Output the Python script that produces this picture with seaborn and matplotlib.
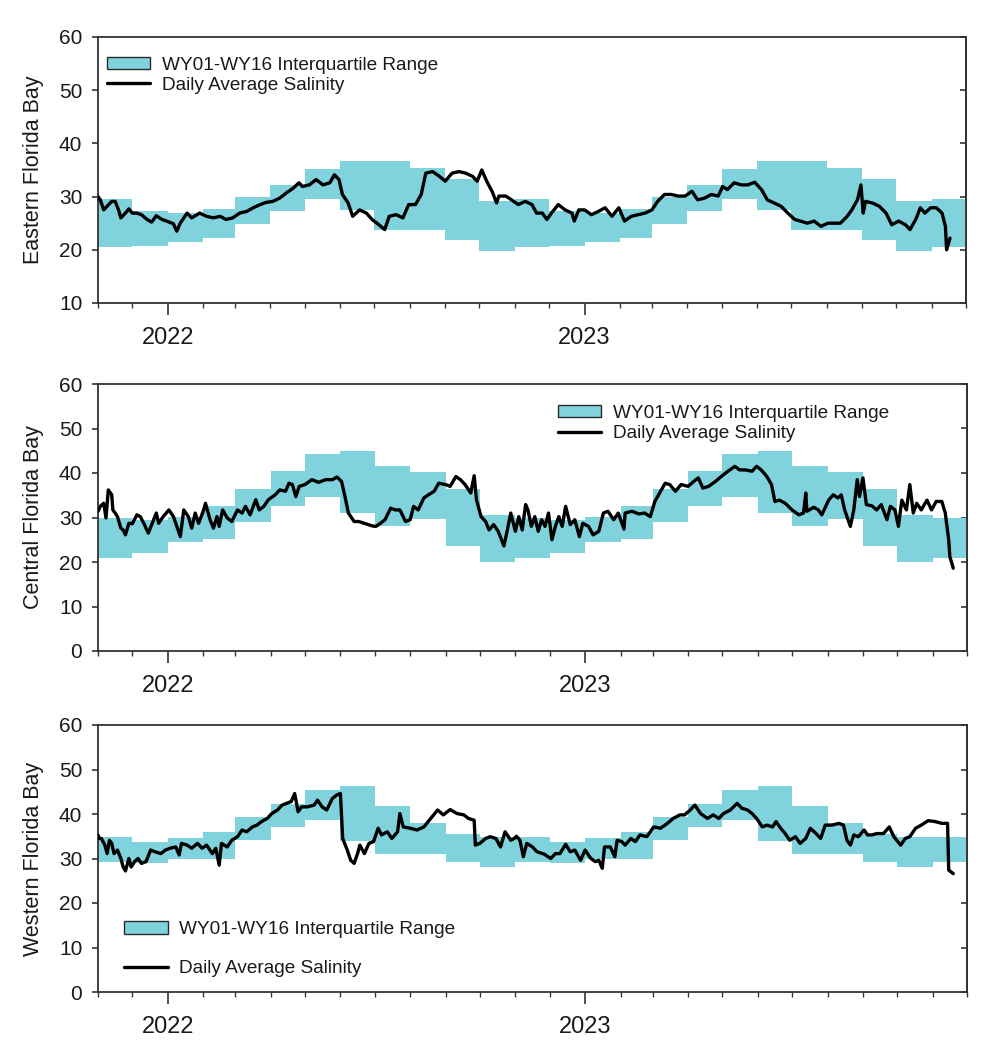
import numpy as np
import pandas as pd
import matplotlib
matplotlib.use("Agg")
import matplotlib.pyplot as plt
import matplotlib.dates as mdates
from matplotlib.patches import Patch
from matplotlib.lines import Line2D
import seaborn as sns

sns.set_theme(style="ticks")
plt.rcParams["font.family"] = ["Liberation Sans", "DejaVu Sans"]

# ---------------- data ----------------
START = "2021-11-01"
END = "2023-12-01"
MONTHS = ["Jan", "Feb", "Mar", "Apr", "May", "Jun",
          "Jul", "Aug", "Sep", "Oct", "Nov", "Dec"]

# WY01-WY16 monthly interquartile range (calendar order Jan..Dec)
EAST_Q25 = [21.5, 22.3, 24.9, 27.3, 29.6, 27.5, 23.7, 23.8, 21.8, 19.7, 20.5, 20.8]
EAST_Q75 = [26.9, 27.7, 29.9, 32.1, 35.2, 36.6, 36.7, 35.3, 33.4, 29.2, 29.5, 27.2]
CENT_Q25 = [24.6, 25.2, 29.1, 32.6, 34.7, 31.0, 28.0, 29.6, 23.6, 20.0, 20.9, 22.0]
CENT_Q75 = [30.2, 32.6, 36.5, 40.5, 44.3, 45.0, 41.5, 40.2, 36.5, 30.5, 30.0, 29.5]
WEST_Q25 = [29.8, 30.0, 34.1, 37.1, 38.6, 33.9, 31.0, 31.0, 29.3, 28.1, 29.3, 28.9]
WEST_Q75 = [34.5, 36.0, 39.4, 42.2, 45.4, 46.3, 41.8, 37.9, 35.5, 34.9, 34.9, 33.8]

# Daily average salinity (day offset from 2021-11-01, value)
EAST_DAY = [0, 2, 5, 8, 12, 15, 18, 20, 24, 27, 30, 34, 38, 43, 47, 51, 56, 60, 66, 69,
            72, 78, 82, 89, 95, 101, 107, 112, 118, 124, 130, 136, 142, 147, 153, 159, 165,
            171, 176, 179, 185, 191, 197, 203, 207, 211, 214, 219, 223, 229, 235, 240, 246,
            251, 255, 261, 267, 272, 278, 283, 287, 293, 299, 304, 310, 316, 322, 328, 332,
            336, 341, 345, 349, 351, 357, 362, 368, 374, 380, 384, 389, 393, 397, 403, 409,
            415, 417, 421, 426, 432, 438, 444, 450, 456, 461, 467, 473, 479, 485, 490, 496,
            502, 508, 514, 520, 525, 531, 537, 543, 547, 551, 557, 563, 569, 575, 581, 586,
            592, 598, 604, 610, 615, 621, 627, 633, 639, 644, 650, 656, 660, 665, 668, 670,
            672, 678, 684, 690, 695, 701, 707, 711, 716, 720, 724, 729, 734, 739, 742, 743, 746]
EAST_SAL = [30.0, 29.4, 27.5, 28.2, 29.1, 29.1, 27.5, 26.0, 26.9, 27.7, 26.9, 26.9, 26.6,
            25.7, 25.2, 26.4, 25.7, 25.4, 24.9, 23.5, 25.0, 26.9, 26.0, 26.9, 26.3, 26.0,
            26.3, 25.7, 26.0, 26.9, 27.2, 27.9, 28.5, 28.9, 29.1, 29.7, 30.7, 31.6, 32.6,
            31.9, 32.2, 33.2, 32.2, 32.6, 34.1, 33.2, 30.4, 28.8, 26.3, 27.5, 26.9, 25.7,
            24.7, 23.8, 26.3, 26.6, 26.0, 28.5, 28.5, 30.4, 34.4, 34.7, 33.8, 32.9, 34.4,
            34.7, 34.4, 33.8, 32.9, 35.0, 32.6, 31.0, 28.8, 30.1, 30.1, 29.4, 28.5, 29.1,
            28.5, 26.9, 26.9, 25.7, 26.9, 28.5, 27.5, 26.9, 25.4, 27.5, 27.5, 26.6, 27.2,
            27.9, 26.3, 27.9, 25.4, 26.3, 26.6, 26.9, 27.5, 29.1, 30.4, 30.4, 30.1, 30.1,
            31.0, 29.4, 29.7, 30.4, 30.1, 31.9, 31.3, 32.6, 32.2, 32.2, 32.7, 31.3, 29.4,
            28.8, 28.2, 26.9, 25.7, 25.4, 25.0, 25.4, 24.4, 25.0, 25.0, 25.0, 26.3, 27.5,
            29.4, 32.2, 26.9, 29.1, 28.8, 28.2, 26.9, 24.7, 25.4, 24.7, 23.8, 25.7, 27.9,
            26.9, 27.9, 27.9, 26.9, 24.4, 20.0, 22.2]

CENT_DAY = [0, 2, 5, 7, 9, 12, 13, 15, 17, 20, 22, 24, 27, 30, 34, 37, 40, 44, 47, 51, 53,
            57, 62, 66, 72, 75, 79, 82, 85, 88, 92, 94, 98, 101, 104, 106, 109, 113, 117,
            122, 126, 129, 133, 138, 141, 145, 149, 155, 159, 164, 167, 170, 173, 176, 181,
            187, 193, 199, 205, 209, 213, 216, 219, 224, 228, 234, 240, 243, 247, 251, 256,
            260, 264, 269, 273, 276, 280, 285, 289, 294, 298, 304, 308, 313, 317, 321, 326,
            329, 331, 335, 339, 342, 346, 350, 355, 358, 361, 365, 368, 371, 374, 376, 379,
            382, 385, 388, 391, 394, 397, 400, 403, 406, 409, 413, 417, 421, 424, 429, 433,
            438, 442, 446, 451, 455, 460, 461, 467, 473, 478, 483, 487, 492, 496, 500, 505,
            510, 516, 521, 525, 529, 534, 540, 545, 551, 557, 561, 566, 572, 576, 580, 585,
            589, 592, 596, 601, 607, 613, 617, 619, 620, 626, 630, 633, 639, 643, 647, 650,
            653, 658, 661, 664, 666, 669, 672, 677, 681, 685, 690, 693, 697, 700, 703, 707,
            710, 713, 716, 720, 725, 729, 733, 738, 741, 744, 745, 748]
CENT_SAL = [31.4, 32.5, 33.2, 29.9, 36.2, 35.1, 31.7, 31.0, 30.2, 27.6, 27.2, 26.1, 28.7,
            28.6, 30.6, 30.2, 28.7, 26.5, 28.4, 31.0, 28.7, 30.2, 31.7, 30.2, 25.7, 31.7,
            30.2, 27.6, 31.0, 28.7, 31.4, 33.2, 29.5, 27.6, 30.2, 28.0, 31.7, 29.9, 29.1,
            31.7, 31.0, 32.5, 30.6, 34.0, 31.7, 32.5, 34.0, 35.1, 36.2, 35.9, 37.7, 37.4,
            34.7, 37.0, 37.4, 38.5, 37.9, 38.5, 38.5, 39.1, 38.1, 34.7, 31.0, 29.1, 29.1,
            28.6, 28.1, 28.0, 28.7, 29.5, 32.1, 31.7, 31.7, 29.1, 29.5, 32.5, 31.7, 34.4,
            35.1, 35.9, 37.7, 37.4, 37.0, 39.2, 38.5, 37.4, 35.5, 39.4, 34.0, 30.2, 29.1,
            27.2, 28.4, 26.9, 23.6, 27.2, 31.0, 26.9, 30.2, 27.2, 32.9, 31.7, 28.0, 30.2,
            26.9, 29.5, 28.0, 31.0, 25.0, 28.0, 30.2, 28.0, 32.5, 28.4, 29.5, 25.7, 28.7,
            28.0, 26.1, 26.9, 31.0, 31.4, 29.5, 31.0, 27.4, 31.0, 31.4, 30.8, 31.0, 30.2,
            33.6, 35.9, 37.7, 37.4, 35.9, 37.4, 37.0, 38.1, 38.9, 36.6, 37.0, 38.1, 39.2,
            40.4, 41.5, 40.7, 40.7, 40.4, 41.5, 40.7, 39.2, 37.4, 33.6, 33.9, 33.2, 31.7,
            30.6, 31.0, 35.5, 31.4, 32.3, 31.7, 30.6, 33.9, 35.1, 34.4, 35.1, 31.7, 28.0,
            31.7, 38.5, 34.7, 38.9, 32.9, 32.6, 31.7, 32.9, 29.5, 32.5, 31.7, 28.0, 33.9,
            31.7, 37.4, 31.0, 33.2, 31.7, 33.9, 31.7, 33.6, 33.6, 31.0, 25.0, 21.2, 18.6]

WEST_DAY = [0, 1, 3, 6, 8, 10, 12, 14, 17, 20, 22, 24, 27, 29, 32, 35, 38, 42, 46, 50, 55,
            59, 63, 68, 71, 73, 78, 82, 87, 91, 95, 100, 103, 106, 108, 113, 117, 122, 126,
            130, 135, 139, 143, 148, 152, 157, 161, 165, 169, 172, 175, 178, 183, 189, 192,
            196, 200, 205, 209, 212, 214, 218, 221, 224, 227, 229, 233, 237, 241, 245, 248,
            253, 257, 262, 264, 267, 273, 279, 285, 291, 297, 302, 308, 314, 320, 324, 329,
            330, 334, 339, 343, 348, 352, 356, 361, 364, 366, 369, 372, 375, 380, 384, 390,
            396, 400, 404, 409, 413, 417, 422, 426, 431, 435, 438, 441, 443, 448, 452, 454,
            458, 461, 466, 470, 474, 480, 486, 492, 498, 503, 509, 513, 518, 522, 527, 533,
            538, 543, 547, 553, 559, 563, 568, 572, 576, 581, 585, 590, 593, 597, 601, 605,
            610, 614, 619, 623, 628, 632, 636, 642, 648, 652, 655, 658, 661, 665, 670, 673,
            677, 681, 687, 692, 696, 702, 706, 710, 715, 720, 726, 732, 738, 743, 744, 748]
WEST_SAL = [35.3, 34.5, 34.5, 33.0, 31.1, 34.1, 33.4, 31.1, 31.9, 30.0, 28.1, 27.2, 30.0,
            28.1, 29.3, 30.0, 28.9, 29.3, 31.9, 31.5, 31.1, 31.9, 32.3, 32.6, 30.8, 33.4,
            33.0, 32.3, 33.4, 32.3, 33.0, 31.1, 32.3, 28.5, 33.4, 32.6, 34.1, 34.9, 36.4,
            36.0, 37.1, 37.5, 38.3, 39.0, 40.1, 40.9, 42.0, 42.4, 42.8, 44.6, 40.5, 41.6,
            41.6, 42.0, 43.1, 41.6, 40.9, 43.5, 44.3, 44.6, 34.5, 31.9, 29.6, 28.9, 31.1,
            33.0, 31.1, 33.4, 33.8, 36.8, 35.3, 36.0, 34.5, 36.0, 40.1, 37.1, 36.8, 36.4,
            37.1, 39.0, 40.9, 39.8, 41.0, 40.1, 39.8, 39.0, 38.6, 33.0, 33.4, 34.5, 34.9,
            34.5, 32.6, 36.0, 34.1, 34.5, 35.0, 34.1, 30.4, 33.4, 32.6, 31.5, 31.0, 30.0,
            31.1, 31.1, 33.2, 31.5, 31.9, 29.6, 31.9, 30.0, 29.3, 29.6, 27.8, 32.6, 32.6,
            30.4, 34.1, 33.8, 33.0, 34.5, 33.8, 35.3, 34.9, 37.1, 36.8, 37.9, 39.0, 39.8,
            39.8, 40.9, 42.0, 40.1, 39.0, 39.8, 39.0, 40.1, 40.9, 42.4, 41.3, 40.9, 40.1,
            39.0, 37.1, 37.5, 37.1, 38.3, 36.8, 35.6, 34.1, 34.9, 33.4, 34.5, 36.8, 35.6,
            34.5, 37.5, 37.5, 37.9, 37.5, 34.1, 33.0, 35.3, 34.9, 36.4, 35.3, 35.3, 35.6,
            35.6, 37.1, 34.9, 33.0, 34.5, 34.9, 36.8, 37.5, 38.5, 38.3, 37.9, 37.9, 27.4, 26.6]

PANELS = [
    ("Eastern Florida Bay", EAST_DAY, EAST_SAL, EAST_Q25, EAST_Q75, (10, 60)),
    ("Central Florida Bay", CENT_DAY, CENT_SAL, CENT_Q25, CENT_Q75, (0, 60)),
    ("Western Florida Bay", WEST_DAY, WEST_SAL, WEST_Q25, WEST_Q75, (0, 60)),
]
LEG_LABELS = ["WY01-WY16 Interquartile Range", "Daily Average Salinity"]

# ---------------- styling ----------------
BAND = "#80D3DC"
SPINE = "#333333"
TXT = "#1a1a1a"

W, H = 984, 1043
fig = plt.figure(figsize=(W / 100, H / 100), dpi=100)
fig.patch.set_facecolor("white")

# axes boxes in pixels: (left, top, right, bottom)
boxes = [(98, 37, 966, 303), (98, 384, 967, 651), (98, 725, 967, 992)]
# legend anchors (axes fraction) and row spacing
leg_cfg = [((0.010, 0.926), 0.16), ((0.529, 0.922), 0.17), ((0.030, 0.265), 1.15)]

start = pd.Timestamp(START)
end = pd.Timestamp(END)
edges = pd.date_range(START, END, freq="MS")

for (title, days, sal, q25, q75, ylim), (l, t, r, b), (anchor, lsp) in zip(PANELS, boxes, leg_cfg):
    ax = fig.add_axes([l / W, 1 - b / H, (r - l) / W, (b - t) / H])
    ax.set_facecolor("white")

    lo = [q25[d.month - 1] for d in edges]
    hi = [q75[d.month - 1] for d in edges]
    ax.fill_between(edges, lo, hi, step="post", color=BAND, lw=0, zorder=1)

    df = pd.DataFrame({"date": start + pd.to_timedelta(days, unit="D"), "sal": sal})
    sns.lineplot(data=df, x="date", y="sal", ax=ax, color="black", lw=2.4,
                 estimator=None, zorder=3, legend=False)

    ax.set_xlim(start, end)
    ax.set_ylim(*ylim)
    ax.set_yticks(np.arange(ylim[0], ylim[1] + 1, 10))
    ax.set_xlabel("")
    ax.set_ylabel(title, fontsize=15.5, color=TXT, labelpad=11)

    ax.xaxis.set_major_locator(mdates.YearLocator())
    ax.xaxis.set_major_formatter(mdates.DateFormatter("%Y"))
    ax.xaxis.set_minor_locator(mdates.MonthLocator())

    for s in ax.spines.values():
        s.set_visible(True)
        s.set_color(SPINE)
        s.set_linewidth(1.3)

    ax.tick_params(axis="x", which="major", direction="out", length=8.6, width=1.2,
                   color=SPINE, pad=9, labelsize=17, labelcolor=TXT)
    ax.tick_params(axis="x", which="minor", direction="out", length=3.6, width=1.0,
                   color=SPINE)
    ax.tick_params(axis="y", which="major", direction="out", length=4.3, width=1.2,
                   color=SPINE, pad=7, labelsize=15, labelcolor=TXT)
    ax.tick_params(axis="y", which="minor", left=False, right=False)

    sec = ax.secondary_yaxis("right")
    sec.set_yticks(np.arange(ylim[0], ylim[1] + 1, 10))
    sec.tick_params(direction="in", length=4.3, width=1.2, color=SPINE, labelright=False)
    sec.spines["right"].set_color(SPINE)
    sec.spines["right"].set_linewidth(1.3)

    handles = [Patch(facecolor=BAND, edgecolor="#2b2b2b", lw=1.0),
               Line2D([], [], color="black", lw=2.4)]
    ax.legend(handles, LEG_LABELS, loc="upper left", bbox_to_anchor=anchor,
              frameon=False, fontsize=13.7, handlelength=2.3, handleheight=0.6,
              handletextpad=0.6, labelspacing=lsp, borderpad=0, borderaxespad=0,
              labelcolor=TXT)

fig.savefig("out.png", dpi=100, facecolor="white")
